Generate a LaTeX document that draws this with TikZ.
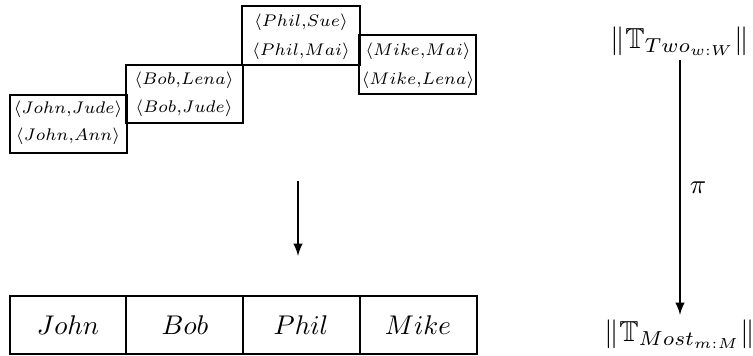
\documentclass[tikz,border=0pt]{standalone}
\usepackage{amsmath}
\usepackage{amsfonts}
\usepackage{amssymb}
\usepackage{tikz}

\newcommand{\pairof}[2]{\scalebox{0.89}{$\langle #1{,}#2\rangle$}}
\newcommand{\projof}[2]{\scalebox{1.07}{$\|\mathbb{T}_{#1_{#2}}\|$}}

\tikzset{
  pairline/.style={line width=1.1pt},
  rowline/.style={line width=0.9pt},
  pairlabel/.style={font=\scriptsize, inner sep=0pt},
  namelabel/.style={inner sep=0pt},
  projlabel/.style={inner sep=1.5pt},
  mapto/.style={line width=0.6pt, -latex}
}

\begin{document}
\begin{tikzpicture}[x=0.013cm, y=-0.013cm]
\useasboundingbox (0, 0) rectangle (753, 356);

% the groups of pairs
\draw[pairline] (10, 95) rectangle (127, 153);
\draw[pairline] (126, 65) rectangle (243, 123);
\draw[pairline] (242, 6) rectangle (360, 65);
\draw[pairline] (359, 35) rectangle (476, 94);

\node[pairlabel] (johnjude) at (68, 109) {\pairof{John}{Jude}};
\node[pairlabel] (johnann) at (68, 136) {\pairof{John}{Ann}};
\node[pairlabel] (boblena) at (184, 80) {\pairof{Bob}{Lena}};
\node[pairlabel] (bobjude) at (184, 108) {\pairof{Bob}{Jude}};
\node[pairlabel] (philsue) at (301, 22) {\pairof{Phil}{Sue}};
\node[pairlabel] (philmai) at (301, 51) {\pairof{Phil}{Mai}};
\node[pairlabel] (mikemai) at (418, 51) {\pairof{Mike}{Mai}};
\node[pairlabel] (mikelena) at (418, 80) {\pairof{Mike}{Lena}};

% the row of names
\draw[rowline] (10, 296) rectangle (477, 354);
\draw[rowline] (126, 296) -- (126, 354);
\draw[rowline] (243, 296) -- (243, 354);
\draw[rowline] (360, 296) -- (360, 354);

\node[namelabel] (john) at (68, 325) {$John$};
\node[namelabel] (bob) at (185, 325) {$Bob$};
\node[namelabel] (phil) at (301, 325) {$Phil$};
\node[namelabel] (mike) at (418, 325) {$Mike$};

\coordinate (pairs) at (298, 181);
\coordinate (names) at (298, 256);
\draw[mapto] (pairs) -- (names);

% the projection
\node[projlabel] (two) at (680, 41) {\projof{Two}{w:W}};
\node[projlabel] (most) at (680, 334) {\projof{Most}{m:M}};
\draw[mapto] (two) -- (most) node[midway, right=0pt] (pi) {$\pi$};
\end{tikzpicture}
\end{document}
